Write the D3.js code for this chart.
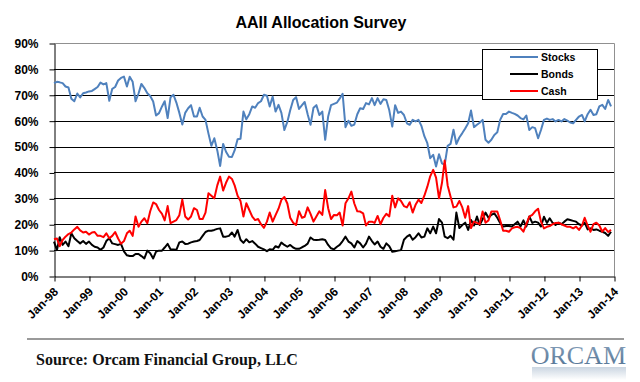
<!DOCTYPE html>
<html><head><meta charset="utf-8">
<script src="https://cdn.jsdelivr.net/npm/d3@7"></script>
<style>body{margin:0;background:#fff}svg{display:block}</style>
</head><body>
<svg id="c" width="640" height="382"></svg>
<script>
// Monthly survey values (%), Jan-98 .. Dec-13
const stocks=[74.5,75.0,74.8,74.5,73.2,72.8,68.5,67.5,70.5,69.0,70.6,70.9,
71.3,71.5,72.2,73.0,74.7,74.0,74.5,67.7,72.3,73.0,75.5,76.5,
77.0,73.2,77.0,75.0,67.5,70.5,74.2,72.6,70.6,69.5,67.4,62.0,
62.9,65.5,67.5,61.0,69.0,70.0,67.0,63.0,58.5,63.0,64.8,66.0,
61.6,61.6,65.0,61.6,60.3,55.0,50.3,53.2,48.5,42.5,51.0,48.0,
46.1,46.0,48.5,52.8,53.0,63.5,60.5,62.5,65.5,65.0,66.8,67.5,
70.0,69.6,65.5,69.3,63.5,66.1,63.0,56.4,59.5,64.0,68.0,69.1,
64.5,66.0,67.2,62.5,58.4,65.0,66.0,62.2,63.5,52.6,61.6,66.0,
66.5,67.0,68.5,70.4,57.5,60.0,58.0,58.5,62.5,64.8,64.5,66.8,
66.3,68.7,66.0,68.7,66.5,68.3,68.0,64.0,57.7,66.0,63.0,63.5,
62.2,59.0,58.4,60.3,59.7,60.3,58.0,54.0,51.3,45.5,46.8,42.3,
47.0,43.5,42.9,50.3,51.0,56.5,51.0,53.5,55.2,57.0,59.0,63.9,
57.5,58.4,59.2,60.3,52.6,51.5,52.6,54.5,55.5,60.3,62.6,62.6,
63.5,63.0,62.6,62.0,61.0,60.5,62.0,56.4,57.5,57.1,53.2,56.4,
60.3,60.8,60.3,60.6,59.7,60.3,59.7,60.6,60.0,59.3,59.0,60.3,
61.6,62.2,59.7,62.5,64.2,62.2,62.5,65.5,66.1,64.5,68.0,65.5];
const bonds=[13.3,10.0,15.0,12.0,13.3,11.5,16.5,14.6,13.5,12.6,13.5,12.4,
13.3,12.0,11.3,11.0,10.1,11.0,13.5,14.6,12.6,12.3,12.0,12.4,
9.5,8.0,7.7,7.7,8.5,8.5,7.7,6.8,9.8,8.8,6.8,9.4,
9.8,9.8,11.0,12.4,10.3,10.2,10.1,13.0,13.3,12.4,12.5,13.0,
13.3,13.5,13.9,15.5,17.0,17.5,17.5,17.8,18.2,18.4,15.2,15.2,
15.5,16.8,15.2,17.8,14.0,12.8,14.2,13.0,13.5,12.5,11.3,10.8,
10.3,9.6,10.3,10.1,11.5,11.0,12.9,12.0,11.3,12.0,11.0,10.5,
10.5,11.1,11.6,12.5,14.9,14.0,13.9,14.0,14.2,13.9,12.0,10.7,
10.3,11.3,12.0,13.5,15.2,13.3,12.6,11.0,13.5,12.6,11.0,12.5,
15.2,13.5,12.2,13.3,11.3,10.5,12.6,11.5,9.4,9.6,9.8,10.0,
14.0,15.2,15.9,14.0,15.0,16.5,14.9,15.2,18.4,16.5,19.1,16.5,
22.0,20.6,15.2,14.6,15.5,14.0,24.5,18.5,19.7,20.6,17.8,21.6,
19.5,23.0,19.7,21.9,24.5,22.5,23.6,24.2,22.5,20.5,19.1,19.3,
19.3,19.1,20.0,21.0,19.1,21.5,19.1,23.0,20.5,21.0,20.6,19.1,
22.9,20.5,22.3,20.5,19.7,20.6,20.0,21.0,21.9,21.6,21.3,21.0,
20.0,19.5,20.6,18.0,18.4,17.8,18.0,17.5,17.1,16.6,15.5,17.1];
const cash=[14.2,14.5,11.5,13.9,15.2,16.2,16.8,18.0,19.0,17.6,16.8,17.1,
16.0,16.8,17.0,15.5,15.5,15.0,16.5,14.6,15.5,17.0,14.5,12.5,
13.5,16.5,17.5,15.5,23.0,19.0,21.0,22.3,20.4,25.0,28.4,27.8,
25.5,24.0,21.5,27.0,20.4,21.0,21.6,23.5,29.5,23.0,21.8,23.0,
26.2,25.5,22.0,22.0,24.5,32.0,31.0,30.0,35.0,38.4,33.0,36.0,
38.4,37.5,35.0,31.0,29.0,23.0,28.1,25.5,22.9,21.6,22.0,20.0,
18.6,21.0,24.5,21.0,23.5,26.0,29.4,30.5,28.0,22.5,20.6,19.7,
25.0,22.5,22.9,26.5,24.0,21.0,23.0,25.0,23.6,33.2,26.2,22.0,
23.6,23.5,24.5,19.5,28.1,30.0,32.6,28.0,25.0,24.9,24.2,19.5,
21.0,21.0,20.5,23.2,20.0,22.5,24.0,23.0,31.0,26.5,30.0,29.0,
27.0,26.5,28.5,24.5,27.5,29.5,28.2,31.0,34.5,38.5,41.0,38.0,
30.0,36.0,44.6,35.0,30.7,26.5,26.8,29.0,26.5,22.5,27.0,18.5,
21.0,20.5,20.0,24.9,20.6,21.5,24.9,24.9,24.9,21.5,17.5,17.5,
17.1,18.4,18.8,19.0,18.5,17.1,20.0,22.9,23.6,25.0,26.0,21.0,
18.4,19.0,19.3,20.0,20.5,20.6,20.0,19.5,19.0,19.0,18.4,19.1,
17.8,19.5,22.5,19.5,17.1,20.0,20.6,19.5,17.1,18.5,17.0,17.8];
const yTicks=[0,10,20,30,40,50,60,70,80,90];
const xTickLabels=["Jan-98","Jan-99","Jan-00","Jan-01","Jan-02","Jan-03","Jan-04","Jan-05","Jan-06","Jan-07","Jan-08","Jan-09","Jan-10","Jan-11","Jan-12","Jan-13","Jan-14"];
const seriesNames=["Stocks","Bonds","Cash"];
const seriesColors=["#4F81BD","#000000","#FF0000"];
const titleText="AAII Allocation Survey";
const sourceText="Source: Orcam Financial Group, LLC";

const svg=d3.select("#c");
const L=54,R=614,T=43,B=276;
const x=d3.scaleTime().domain([new Date(1998,0,1),new Date(2014,0,1)]).range([L,R]);
const y=d3.scaleLinear().domain([0,90]).range([B,T]);
const dates=stocks.map((_,i)=>new Date(1998+Math.floor(i/12),i%12,1));
const tickDates=xTickLabels.map((_,i)=>new Date(1998+i,0,1));

svg.append("text").attr("x",321).attr("y",28).attr("text-anchor","middle")
  .style("font","bold 16px 'Liberation Sans', Arial, sans-serif").text(titleText);

// gridlines
svg.append("g").selectAll("line").data(yTicks.filter(v=>v>0&&v<90)).join("line")
  .attr("x1",L).attr("x2",R).attr("y1",v=>Math.round(y(v))+0.5).attr("y2",v=>Math.round(y(v))+0.5)
  .attr("stroke","#000").attr("stroke-width",1);
// plot border top/right
svg.append("path").attr("d",`M${L},${T+0.5}H${R+0.5}V${B}`).attr("fill","none").attr("stroke","#909090").attr("stroke-width",1);

// axes
const yAxis=svg.append("g").attr("transform",`translate(${L+0.5},0.5)`)
  .call(d3.axisLeft(y).tickValues(yTicks).tickSize(5).tickSizeOuter(0).tickPadding(11).tickFormat(d=>d+"%"));
yAxis.selectAll("text").style("font","bold 12px 'Liberation Sans', Arial, sans-serif").attr("fill","#000");
yAxis.selectAll("line,path").attr("stroke","#000");

const xAxis=svg.append("g").attr("transform",`translate(0.5,${B+0.5})`)
  .call(d3.axisBottom(x).tickValues(tickDates).tickSize(5).tickSizeOuter(0).tickFormat((d,i)=>xTickLabels[i]));
xAxis.selectAll("line,path").attr("stroke","#000");
xAxis.selectAll("text").attr("text-anchor","end").attr("x",0).attr("y",0).attr("dy",0)
  .attr("transform","translate(4,16) rotate(-45)")
  .style("font","bold 12px 'Liberation Sans', Arial, sans-serif").attr("fill","#000");

// series
const line=d3.line().x((d,i)=>x(dates[i])).y(d=>y(d));
[stocks,bonds,cash].forEach((s,k)=>{
  svg.append("path").datum(s).attr("d",line).attr("fill","none")
    .attr("stroke",seriesColors[k]).attr("stroke-width",2).attr("stroke-linejoin","round");
});

// legend
const lg=svg.append("g");
lg.append("rect").attr("x",482.5).attr("y",49.5).attr("width",115).attr("height",50).attr("fill","#fff").attr("stroke","#000");
seriesNames.forEach((n,i)=>{
  const yy=57+i*17;
  lg.append("line").attr("x1",510).attr("x2",538).attr("y1",yy).attr("y2",yy).attr("stroke",seriesColors[i]).attr("stroke-width",2);
  lg.append("text").attr("x",541).attr("y",yy).attr("dy","0.35em")
    .style("font","bold 10.5px 'Liberation Sans', Arial, sans-serif").text(n);
});

// footer
svg.append("line").attr("x1",27).attr("x2",624).attr("y1",339).attr("y2",339).attr("stroke","#9a9a9a").attr("stroke-width",2);
svg.append("text").attr("x",36).attr("y",365)
  .style("font","bold 16px 'Liberation Serif', 'Times New Roman', serif").attr("fill","#111").text(sourceText);
const defs=svg.append("defs");
const g1=defs.append("linearGradient").attr("id","lg1").attr("x1",0).attr("y1",0).attr("x2",0).attr("y2",1);
g1.append("stop").attr("offset","0%").attr("stop-color","#8aa3bd");
g1.append("stop").attr("offset","100%").attr("stop-color","#4e6f90");
const g2=defs.append("linearGradient").attr("id","lg2").attr("x1",0).attr("y1",0).attr("x2",0).attr("y2",1);
g2.append("stop").attr("offset","0%").attr("stop-color","#8aa3bd").attr("stop-opacity",0.45);
g2.append("stop").attr("offset","100%").attr("stop-color","#8aa3bd").attr("stop-opacity",0);
svg.append("text").attr("x",626).attr("y",364).attr("text-anchor","end")
  .style("font","26px 'Liberation Serif', 'Times New Roman', serif").attr("fill","url(#lg1)").text("ORCAM");
// faint reflection band under the logo
svg.append("rect").attr("x",532).attr("y",367).attr("width",94).attr("height",13).attr("fill","url(#lg2)");
</script>
</body></html>
